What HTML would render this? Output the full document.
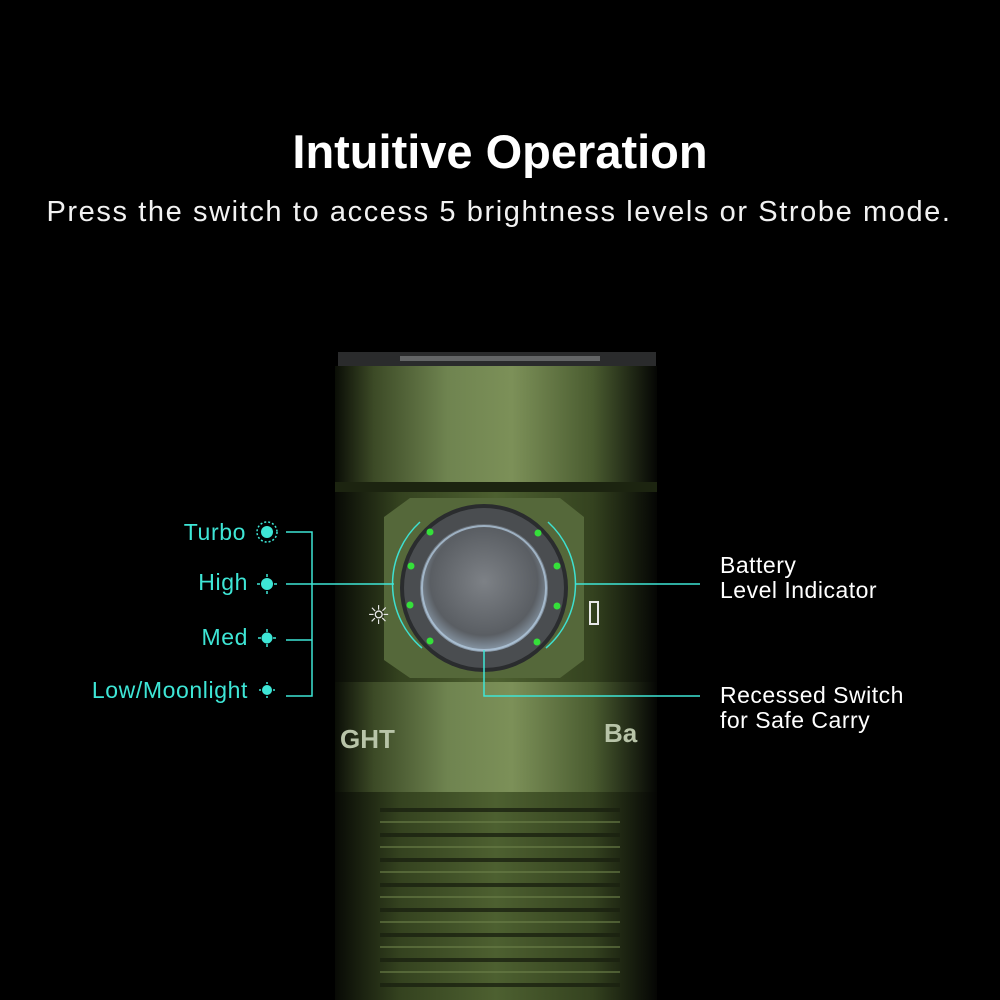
<!DOCTYPE html>
<html><head><style>
body{margin:0;background:#000;}
svg{display:block}
</style></head><body>
<svg width="1000" height="1000" viewBox="0 0 1000 1000" xmlns="http://www.w3.org/2000/svg">
<defs>
<linearGradient id="body" x1="0" x2="1" y1="0" y2="0">
<stop offset="0" stop-color="#0a0d06"/>
<stop offset="0.12" stop-color="#3c4a26"/>
<stop offset="0.35" stop-color="#6f8450"/>
<stop offset="0.55" stop-color="#7c9058"/>
<stop offset="0.8" stop-color="#4a5c30"/>
<stop offset="1" stop-color="#050604"/>
</linearGradient>
<linearGradient id="mid" x1="0" x2="1">
<stop offset="0" stop-color="#080a05"/>
<stop offset="0.2" stop-color="#34421f"/>
<stop offset="0.5" stop-color="#4d6030"/>
<stop offset="0.8" stop-color="#34421f"/>
<stop offset="1" stop-color="#050604"/>
</linearGradient>
<radialGradient id="disc" cx="0.5" cy="0.45" r="0.6">
<stop offset="0" stop-color="#7d8186"/>
<stop offset="0.7" stop-color="#5a5e63"/>
<stop offset="1" stop-color="#9fb4c8"/>
</radialGradient>
</defs>
<rect width="1000" height="1000" fill="#000"/>
<rect x="338" y="352" width="318" height="14" fill="#2a2b2c"/>
<rect x="400" y="356" width="200" height="5" fill="#8a8c8e" opacity="0.6"/>
<rect x="335" y="366" width="322" height="116" fill="url(#body)"/>
<rect x="335" y="482" width="322" height="10" fill="#1c2410"/>
<rect x="335" y="492" width="322" height="190" fill="url(#mid)"/>
<rect x="335" y="682" width="322" height="110" fill="url(#body)"/>
<rect x="335" y="792" width="322" height="208" fill="url(#mid)"/>
<g stroke="#1a2110" stroke-width="4" opacity="0.8">
<line x1="380" y1="810" x2="620" y2="810"/><line x1="380" y1="835" x2="620" y2="835"/>
<line x1="380" y1="860" x2="620" y2="860"/><line x1="380" y1="885" x2="620" y2="885"/>
<line x1="380" y1="910" x2="620" y2="910"/><line x1="380" y1="935" x2="620" y2="935"/>
<line x1="380" y1="960" x2="620" y2="960"/><line x1="380" y1="985" x2="620" y2="985"/>
</g>
<g stroke="#6b7f48" stroke-width="2" opacity="0.6">
<line x1="380" y1="822" x2="620" y2="822"/><line x1="380" y1="847" x2="620" y2="847"/>
<line x1="380" y1="872" x2="620" y2="872"/><line x1="380" y1="897" x2="620" y2="897"/>
<line x1="380" y1="922" x2="620" y2="922"/><line x1="380" y1="947" x2="620" y2="947"/>
<line x1="380" y1="972" x2="620" y2="972"/>
</g>
<text x="340" y="748" font-family="Liberation Sans,sans-serif" font-weight="bold" font-size="26" fill="#b8c4a8">GHT</text>
<text x="604" y="742" font-family="Liberation Sans,sans-serif" font-weight="bold" font-size="26" fill="#b8c4a8">Ba</text>
<path d="M384 517 L410 498 L560 498 L584 517 L584 660 L560 678 L410 678 L384 660 Z" fill="#55683a"/>
<circle cx="484" cy="588" r="84" fill="#2a2c2e"/>
<circle cx="484" cy="588" r="80" fill="#4a4d50"/>
<circle cx="484" cy="588" r="64" fill="url(#disc)"/>
<circle cx="484" cy="588" r="62" fill="none" stroke="#b8d0e6" stroke-width="2" opacity="0.7"/>
<g fill="#35e03a">
<circle cx="430" cy="532" r="3.5"/><circle cx="411" cy="566" r="3.5"/><circle cx="410" cy="605" r="3.5"/><circle cx="430" cy="641" r="3.5"/>
<circle cx="538" cy="533" r="3.5"/><circle cx="557" cy="566" r="3.5"/><circle cx="557" cy="606" r="3.5"/><circle cx="537" cy="642" r="3.5"/>
</g>
<path d="M420 522 A84 84 0 0 0 422 648" fill="none" stroke="#3ee0d0" stroke-width="1.5"/>
<path d="M548 522 A84 84 0 0 1 546 648" fill="none" stroke="#3ee0d0" stroke-width="1.5"/>
<text x="367" y="624" font-family="DejaVu Sans,sans-serif" font-size="26" font-weight="bold" fill="#e8e8e8">☼</text>
<rect x="590" y="602" width="8" height="22" fill="none" stroke="#e8e8e8" stroke-width="2"/>
<text x="500" y="168" text-anchor="middle" font-family="Liberation Sans,sans-serif" font-weight="bold" font-size="47" fill="#fff">Intuitive Operation</text>
<text x="499" y="221" text-anchor="middle" font-family="Liberation Sans,sans-serif" font-size="29" letter-spacing="1.6" fill="#f2f2f2">Press the switch to access 5 brightness levels or Strobe mode.</text>
<g font-family="Liberation Sans,sans-serif" font-size="23" letter-spacing="0.6" fill="#3ee6d6" text-anchor="end">
<text x="246" y="540">Turbo</text>
<text x="248" y="590">High</text>
<text x="248" y="645">Med</text>
<text x="248" y="698">Low/Moonlight</text>
</g>
<g fill="#3ee6d6">
<circle cx="267" cy="532" r="6"/><circle cx="267" cy="584" r="6"/><circle cx="267" cy="638" r="5.5"/><circle cx="267" cy="690" r="5"/>
</g>
<g stroke="#3ee6d6" stroke-width="1.5">
<line x1="257" y1="584" x2="260" y2="584"/><line x1="274" y1="584" x2="277" y2="584"/><line x1="267" y1="574" x2="267" y2="577"/><line x1="267" y1="591" x2="267" y2="594"/>
<line x1="258" y1="638" x2="261" y2="638"/><line x1="273" y1="638" x2="276" y2="638"/><line x1="267" y1="629" x2="267" y2="632"/><line x1="267" y1="644" x2="267" y2="647"/>
<line x1="259" y1="690" x2="261" y2="690"/><line x1="273" y1="690" x2="275" y2="690"/><line x1="267" y1="682" x2="267" y2="684"/><line x1="267" y1="696" x2="267" y2="698"/>
</g>
<circle cx="267" cy="532" r="10" fill="none" stroke="#3ee6d6" stroke-width="1.5" stroke-dasharray="2 2"/>
<g fill="none" stroke="#3ee6d6" stroke-width="1.5">
<polyline points="286,532 312,532 312,696 286,696"/>
<line x1="286" y1="640" x2="312" y2="640"/>
<line x1="286" y1="584" x2="394" y2="584"/>
<line x1="575" y1="584" x2="700" y2="584"/>
<polyline points="484,650 484,696 700,696"/>
</g>
<g font-family="Liberation Sans,sans-serif" font-size="23" letter-spacing="0.5" fill="#fff">
<text x="720" y="573">Battery</text>
<text x="720" y="598">Level Indicator</text>
<text x="720" y="703">Recessed Switch</text>
<text x="720" y="728">for Safe Carry</text>
</g>
</svg>
</body></html>
